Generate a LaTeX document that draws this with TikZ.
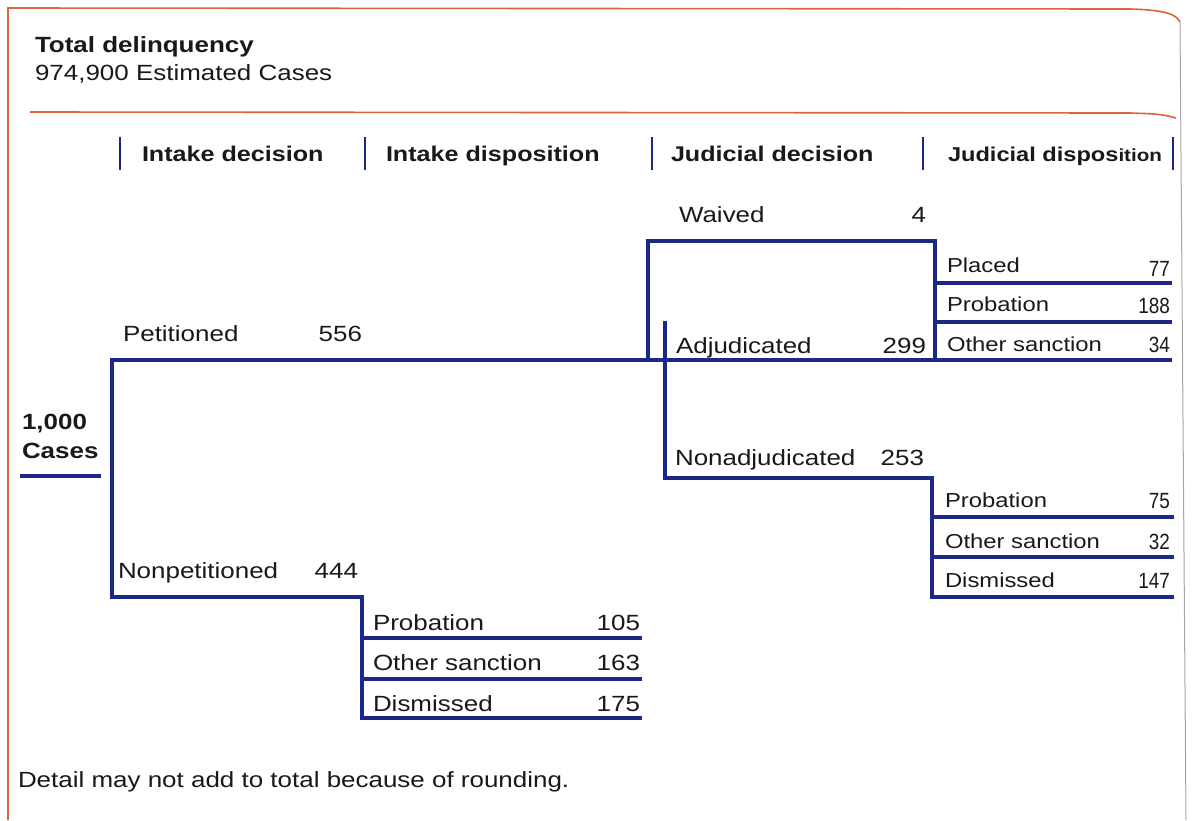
\documentclass[tikz,border=0pt]{standalone}
\usepackage{fontspec}
\setmainfont[FakeStretch=1.18]{Liberation Sans}
\newfontfamily\narrowfont[FakeStretch=0.86]{Liberation Sans}
\definecolor{navy}{RGB}{28,40,135}
\definecolor{framecol}{RGB}{222,98,62}
\definecolor{txt}{RGB}{25,25,25}
\begin{document}
\begin{tikzpicture}[x=1pt,y=-1pt,
  every node/.style={inner sep=0pt, outer sep=0pt, text=txt, font=\fontsize{22}{26}\selectfont},
  lbl/.style={anchor=base west},
  rlbl/.style={anchor=base west, font=\fontsize{20.2}{24}\selectfont},
  num/.style={anchor=base east},
  rnum/.style={anchor=base east, font=\fontsize{22}{26}\narrowfont},
  hdr/.style={anchor=base west, font=\fontsize{21.3}{25}\selectfont\bfseries},
  ttl/.style={anchor=base west, font=\fontsize{22}{26}\selectfont\bfseries},
  branch/.style={draw=navy, line width=3.3pt, line cap=rect},
  tick/.style={draw=navy, line width=2.6pt},
  framel/.style={draw=framecol, line width=1.6pt}]
\useasboundingbox (0,0) rectangle (1194,820);
\fill[white] (0,0) rectangle (1194,820);

% frame
\coordinate (f1) at (8,820);
\coordinate (f2) at (8,8);
\coordinate (f3) at (1130,9);
\coordinate (f4) at (1180,22);
\coordinate (f5) at (1186,820);
\draw[framel] (f1) -- (f2) -- (f3) .. controls (1165,10) and (1176,14) .. (f4);
\draw[draw=gray!70, line width=1pt] (f4) -- (f5);
\coordinate (s1) at (30,112);
\coordinate (s2) at (1130,113);
\coordinate (s3) at (1176,118);
\draw[framel] (s1) -- (s2) .. controls (1160,114) .. (s3);

% title
\node[ttl] (title) at (35,52) {Total delinquency};
\node[lbl] (est) at (35,80) {974,900 Estimated Cases};

% column headers
\foreach \x/\n in {120/b1,365/b2,652/b3,923/b4,1173/b5}{
  \coordinate (\n t) at (\x,137);
  \coordinate (\n b) at (\x,170);
  \draw[tick] (\n t) -- (\n b);
}
\node[hdr] (h1) at (142,161) {Intake decision};
\node[hdr] (h2) at (386,161) {Intake disposition};
\node[hdr] (h3) at (671,161) {Judicial decision};
\node[hdr, font=\fontsize{20}{24}\selectfont\bfseries] (h4) at (948,161) {Judicial dispos\fontsize{17.5}{22}\selectfont ition};

% root
\node[ttl] (r1) at (22,429) {1,000};
\node[ttl] (r2) at (22,458) {Cases};
\coordinate (u1) at (20,476);
\coordinate (u2) at (101,476);
\draw[branch, line cap=butt] (u1) -- (u2);

% main tree
\coordinate (rt) at (112,360);
\coordinate (rb) at (112,597);
\coordinate (wj) at (648,360);
\coordinate (wt) at (648,241);
\coordinate (wr) at (935,241);
\coordinate (aj) at (935,360);
\coordinate (pe) at (1170,360);
\coordinate (at) at (665,323);
\coordinate (ab) at (665,478);
\coordinate (nr) at (932,478);
\coordinate (nb) at (932,597);
\coordinate (np) at (362,597);
\coordinate (npb) at (362,718);

\draw[branch] (rt) -- (pe);
\draw[branch] (rt) -- (rb) -- (np) -- (npb);
\draw[branch] (wj) -- (wt) -- (wr) -- (aj);
\draw[branch] (at) -- (ab) -- (nr) -- (nb);

% disposition rows
\foreach \y/\n in {283/pl,322/pr}{
  \coordinate (\n a) at (935,\y);
  \coordinate (\n b) at (1170,\y);
  \draw[branch] (\n a) -- (\n b);
}
\foreach \y/\n in {517/q1,557/q2,597/q3}{
  \coordinate (\n a) at (932,\y);
  \coordinate (\n b) at (1172,\y);
  \draw[branch] (\n a) -- (\n b);
}
\foreach \y/\n in {638/k1,679/k2,718/k3}{
  \coordinate (\n a) at (362,\y);
  \coordinate (\n b) at (640,\y);
  \draw[branch] (\n a) -- (\n b);
}

% labels
\node[lbl] (pet) at (123,341) {Petitioned};
\node[num] (petn) at (362,341) {556};
\node[lbl] (npet) at (118,578) {Nonpetitioned};
\node[num] (npetn) at (358,578) {444};

\node[lbl] (ip) at (373,630) {Probation};
\node[num] (ipn) at (640,630) {105};
\node[lbl] (io) at (373,670) {Other sanction};
\node[num] (ion) at (640,670) {163};
\node[lbl] (id) at (373,711) {Dismissed};
\node[num] (idn) at (640,711) {175};

\node[lbl] (wv) at (679,222) {Waived};
\node[num] (wvn) at (926,222) {4};
\node[lbl] (adj) at (676,353) {Adjudicated};
\node[num] (adjn) at (926,353) {299};
\node[lbl] (nadj) at (675,465) {Nonadjudicated};
\node[num] (nadjn) at (924,465) {253};

\node[rlbl] (jpl) at (947,272) {Placed};
\node[rnum] (jpln) at (1170,276) {77};
\node[rlbl] (jpr) at (947,311) {Probation};
\node[rnum] (jprn) at (1170,313) {188};
\node[rlbl] (jos) at (947,351) {Other sanction};
\node[rnum] (josn) at (1170,352) {34};

\node[rlbl] (np1) at (945,507) {Probation};
\node[rnum] (np1n) at (1170,508) {75};
\node[rlbl] (np2) at (945,548) {Other sanction};
\node[rnum] (np2n) at (1170,549) {32};
\node[rlbl] (np3) at (945,587) {Dismissed};
\node[rnum] (np3n) at (1170,588) {147};

\node[lbl] (foot) at (18,787) {Detail may not add to total because of rounding.};
\end{tikzpicture}
\end{document}
